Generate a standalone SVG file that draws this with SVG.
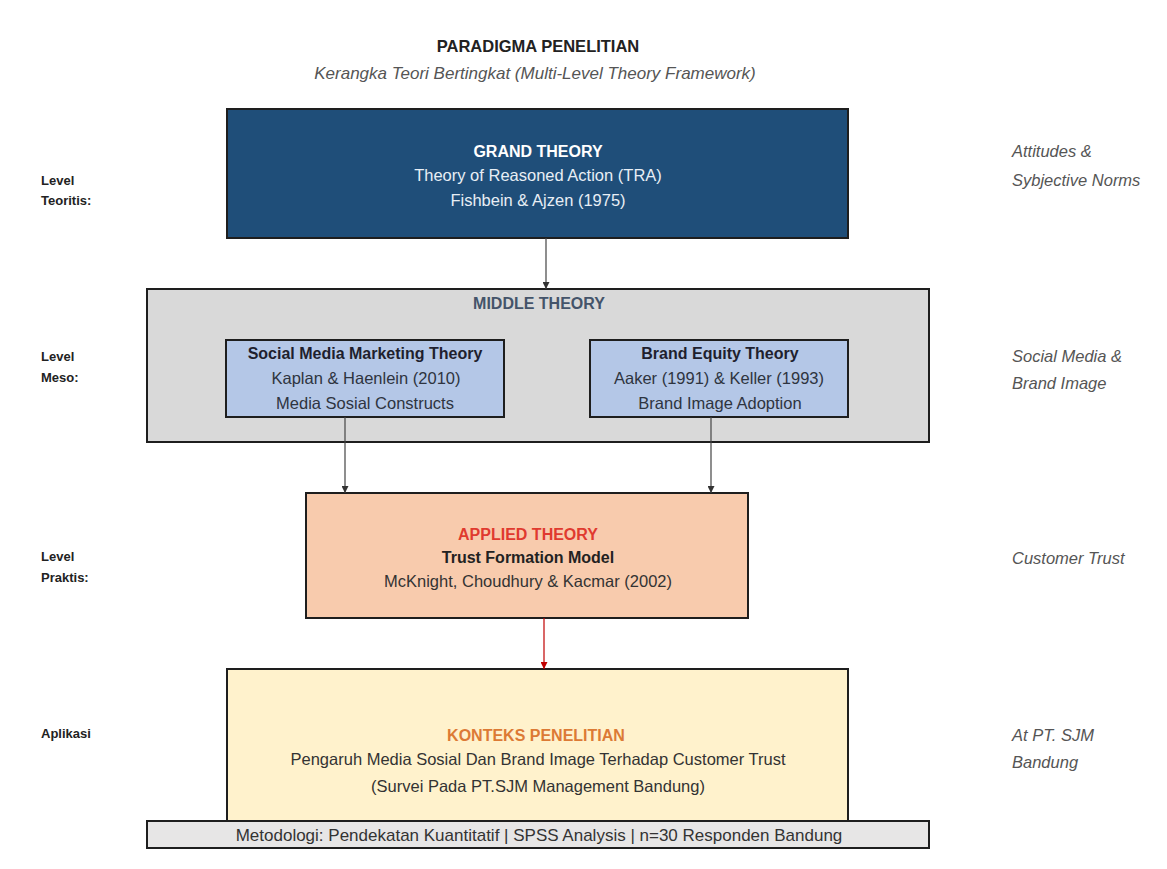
<svg xmlns="http://www.w3.org/2000/svg" width="1167" height="869" viewBox="0 0 1167 869">
<defs>
<marker id="ah" viewBox="0 0 10 10" refX="10" refY="5" markerWidth="7" markerHeight="7" markerUnits="userSpaceOnUse" orient="auto"><path d="M0,0 L10,5 L0,10 z" fill="#333"/></marker>
<marker id="ahr" viewBox="0 0 10 10" refX="10" refY="5" markerWidth="7" markerHeight="7" markerUnits="userSpaceOnUse" orient="auto"><path d="M0,0 L10,5 L0,10 z" fill="#c00000"/></marker>
</defs>
<style>
text{font-family:"Liberation Sans",Arial,sans-serif;}
.c{text-anchor:middle;}
.t{font-size:16.5px;}
.bt{font-size:16px;font-weight:bold;}
.box{stroke:#1e1e1e;stroke-width:2;}
.lv{font-size:13px;font-weight:bold;fill:#222;}
.rt{font-size:16.5px;font-style:italic;fill:#555;}
.ln{stroke:#444;stroke-width:1.2;fill:none;}
</style>
<rect width="1167" height="869" fill="#ffffff"/>
<g id="title">
<text x="538" y="52" class="c" font-size="16.5" font-weight="bold" fill="#222">PARADIGMA PENELITIAN</text>
<text x="535" y="79" class="c" font-size="17" font-style="italic" fill="#555">Kerangka Teori Bertingkat (Multi-Level Theory Framework)</text>
</g>
<g id="left-labels">
<text x="41" y="185" class="lv">Level</text>
<text x="41" y="205" class="lv">Teoritis:</text>
<text x="41" y="361" class="lv">Level</text>
<text x="41" y="382" class="lv">Meso:</text>
<text x="41" y="561" class="lv">Level</text>
<text x="41" y="582" class="lv">Praktis:</text>
<text x="41" y="738" class="lv">Aplikasi</text>
</g>
<g id="right-labels">
<text x="1012" y="157" class="rt">Attitudes &amp;</text>
<text x="1012" y="186" class="rt">Sybjective Norms</text>
<text x="1012" y="362" class="rt">Social Media &amp;</text>
<text x="1012" y="389" class="rt">Brand Image</text>
<text x="1012" y="564" class="rt">Customer Trust</text>
<text x="1012" y="741" class="rt">At PT. SJM</text>
<text x="1012" y="768" class="rt">Bandung</text>
</g>
<g id="grand-theory">
<rect x="227" y="109" width="621" height="129" fill="#1f4e79" class="box"/>
<text x="538" y="157" class="c bt" fill="#ffffff">GRAND THEORY</text>
<text x="538" y="181" class="c t" fill="#e8eef5">Theory of Reasoned Action (TRA)</text>
<text x="538" y="206" class="c t" fill="#e8eef5">Fishbein &amp; Ajzen (1975)</text>
</g>
<g id="middle-theory">
<rect x="147" y="289" width="782" height="153" fill="#d9d9d9" class="box"/>
<text x="539" y="309" class="c bt" fill="#44546a">MIDDLE THEORY</text>
</g>
<g id="smm-theory">
<rect x="226" y="340" width="278" height="77" fill="#b4c7e7" class="box"/>
<text x="365" y="359" class="c bt" fill="#1f1f2e">Social Media Marketing Theory</text>
<text x="366" y="384" class="c t" fill="#2e3440">Kaplan &amp; Haenlein (2010)</text>
<text x="365" y="409" class="c t" fill="#2e3440">Media Sosial Constructs</text>
</g>
<g id="brand-equity-theory">
<rect x="590" y="340" width="258" height="77" fill="#b4c7e7" class="box"/>
<text x="720" y="359" class="c bt" fill="#1f1f2e">Brand Equity Theory</text>
<text x="719" y="384" class="c t" fill="#2e3440">Aaker (1991) &amp; Keller (1993)</text>
<text x="720" y="409" class="c t" fill="#2e3440">Brand Image Adoption</text>
</g>
<g id="applied-theory">
<rect x="306" y="493" width="442" height="125" fill="#f8cbad" class="box"/>
<text x="528" y="540" class="c bt" fill="#e03a2f">APPLIED THEORY</text>
<text x="528" y="563" class="c bt" fill="#222">Trust Formation Model</text>
<text x="528" y="587" class="c t" fill="#333">McKnight, Choudhury &amp; Kacmar (2002)</text>
</g>
<g id="konteks-penelitian">
<rect x="227" y="669" width="621" height="153" fill="#fff2cc" class="box"/>
<text x="536" y="741" class="c bt" fill="#dc7a35">KONTEKS PENELITIAN</text>
<text x="538" y="765" class="c t" fill="#333">Pengaruh Media Sosial Dan Brand Image Terhadap Customer Trust</text>
<text x="538" y="792" class="c t" fill="#333">(Survei Pada PT.SJM Management Bandung)</text>
</g>
<g id="metodologi">
<rect x="147" y="821" width="782" height="27" fill="#e7e6e6" class="box"/>
<text x="539" y="841" class="c" font-size="17" fill="#333">Metodologi: Pendekatan Kuantitatif | SPSS Analysis | n=30 Responden Bandung</text>
</g>
<g id="connectors">
<line x1="546" y1="238" x2="546" y2="289" class="ln" marker-end="url(#ah)"/>
<line x1="345" y1="417" x2="345" y2="493" class="ln" marker-end="url(#ah)"/>
<line x1="711" y1="417" x2="711" y2="493" class="ln" marker-end="url(#ah)"/>
<line x1="544" y1="618" x2="544" y2="669" stroke="#c00000" stroke-width="1.2" marker-end="url(#ahr)"/>
</g>
</svg>
